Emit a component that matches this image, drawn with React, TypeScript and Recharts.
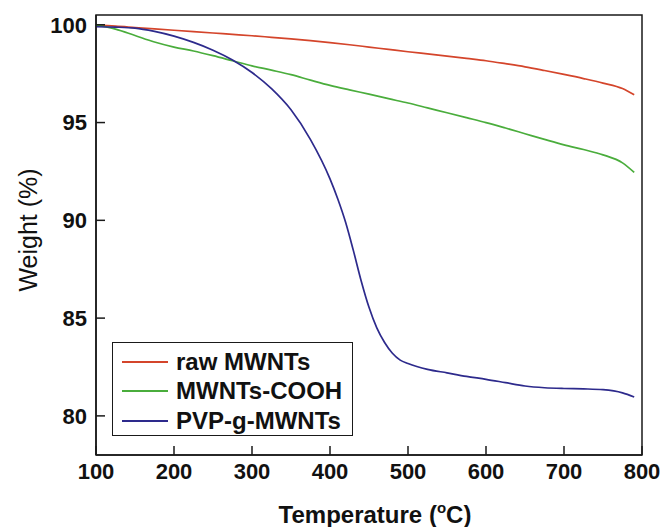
import React from "react";
import { LineChart, Line, XAxis, YAxis, ReferenceArea, Legend, Label } from "recharts";

// Temperature grid (°C) shared by raw MWNTs and MWNTs-COOH
const temps = [
  100, 125, 150, 175, 200, 225, 250, 275, 300, 325, 350, 375, 400, 425, 450,
  475, 500, 525, 550, 575, 600, 625, 650, 675, 700, 725, 750, 775, 790,
];
const rawMwnts = [
  99.98, 99.93, 99.86, 99.79, 99.72, 99.65, 99.58, 99.51, 99.44, 99.36, 99.28,
  99.19, 99.09, 98.98, 98.86, 98.74, 98.62, 98.51, 98.4, 98.28, 98.16, 98.01,
  97.85, 97.66, 97.46, 97.25, 97.02, 96.74, 96.42,
];
const mwntsCooh = [
  99.98, 99.78, 99.45, 99.12, 98.86, 98.66, 98.42, 98.16, 97.9, 97.68, 97.45,
  97.17, 96.9, 96.67, 96.45, 96.22, 96.0, 95.75, 95.5, 95.25, 95.0, 94.72,
  94.43, 94.14, 93.86, 93.62, 93.35, 92.94, 92.45,
];

// PVP-g-MWNTs needs a denser grid around the main weight loss
const pvpTemps = [
  100, 125, 150, 175, 200, 225, 250, 275, 300, 325, 350, 375, 400, 410, 420,
  430, 440, 450, 460, 470, 480, 490, 500, 525, 550, 575, 600, 625, 650, 675,
  700, 725, 750, 775, 790,
];
const pvpMwnts = [
  99.9, 99.88, 99.83, 99.66, 99.42, 99.1, 98.7, 98.2, 97.56, 96.73, 95.65,
  94.13, 92.12, 91.09, 89.9, 88.45, 86.9, 85.55, 84.5, 83.75, 83.2, 82.85,
  82.68, 82.38, 82.2, 82.02, 81.87, 81.7, 81.53, 81.44, 81.4, 81.38, 81.34,
  81.18, 80.97,
];

const xTicks = [100, 200, 300, 400, 500, 600, 700, 800];
const yTicks = [80, 85, 90, 95, 100];

const series = [
  { name: "raw MWNTs", color: "#d4452b", data: temps.map((t, i) => ({ t, w: rawMwnts[i] })) },
  { name: "MWNTs-COOH", color: "#4aad3c", data: temps.map((t, i) => ({ t, w: mwntsCooh[i] })) },
  { name: "PVP-g-MWNTs", color: "#2d2a8c", data: pvpTemps.map((t, i) => ({ t, w: pvpMwnts[i] })) },
];

const FONT = '"Liberation Sans", Arial, sans-serif';
const AXIS = "#1a1a1a";

const LegendBox = () => (
  <div
    style={{
      border: `1.5px solid ${AXIS}`,
      background: "#fff",
      padding: "4px 0 0 9px",
      boxSizing: "border-box",
      width: 241,
      height: 94,
    }}
  >
    {series.map((s) => (
      <div key={s.name} style={{ display: "flex", alignItems: "center", height: 29.5 }}>
        <div style={{ width: 46, height: 2, background: s.color, marginRight: 8 }} />
        <span style={{ fontFamily: FONT, fontWeight: "bold", fontSize: 24, color: "#111" }}>
          {s.name}
        </span>
      </div>
    ))}
  </div>
);

export default function App() {
  const tickStyle = { fontSize: 22, fontWeight: "bold", fill: "#111", fontFamily: FONT };
  return (
    <div style={{ position: "absolute", left: 0, top: 0, width: 661, height: 527, background: "#fff" }}>
      <LineChart width={661} height={527} margin={{ top: 15, right: 19, left: 36, bottom: 22 }}>
        <XAxis
          type="number"
          dataKey="t"
          domain={[100, 800]}
          ticks={xTicks}
          allowDataOverflow
          height={50}
          tick={tickStyle}
          tickSize={-9}
          tickMargin={17}
          stroke={AXIS}
          strokeWidth={1.5}
        >
          <Label
            content={() => (
              <text x={375} y={523} textAnchor="middle" fontFamily={FONT} fontWeight="bold" fontSize={24} fill="#111">
                Temperature (<tspan fontSize={15} dy={-10}>o</tspan>
                <tspan dy={10}>C)</tspan>
              </text>
            )}
          />
        </XAxis>
        <YAxis
          type="number"
          domain={[78, 100.5]}
          ticks={yTicks}
          allowDataOverflow
          width={60}
          tick={tickStyle}
          tickSize={-9}
          tickMargin={18}
          stroke={AXIS}
          strokeWidth={1.5}
        >
          <Label
            content={() => (
              <text
                x={28}
                y={230}
                transform="rotate(-90 28 230)"
                textAnchor="middle"
                dominantBaseline="central"
                fontFamily={FONT}
                fontSize={25}
                fill="#111"
              >
                Weight (%)
              </text>
            )}
          />
        </YAxis>
        <ReferenceArea x1={100} x2={800} y1={78} y2={100.5} fill="none" stroke={AXIS} strokeWidth={1.5} />
        {series.map((s) => (
          <Line
            key={s.name}
            data={s.data}
            dataKey="w"
            name={s.name}
            type="monotone"
            stroke={s.color}
            strokeWidth={1.7}
            dot={false}
            isAnimationActive={false}
          />
        ))}
        <Legend
          layout="vertical"
          align="center"
          verticalAlign="middle"
          content={<LegendBox />}
          wrapperStyle={{ left: 112, top: 342, width: 241, height: 94 }}
        />
      </LineChart>
    </div>
  );
}
